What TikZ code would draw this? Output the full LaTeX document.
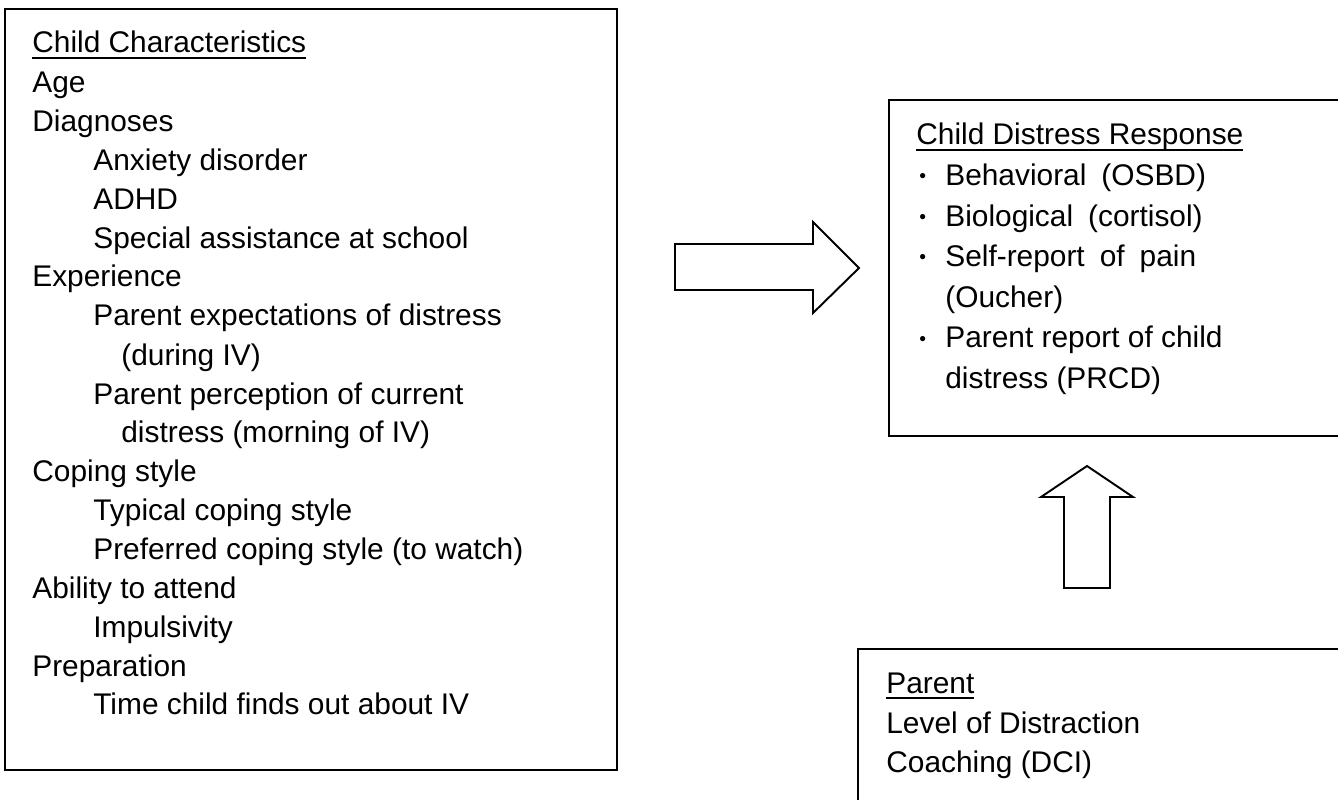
\documentclass[tikz,border=0pt]{standalone}
\usepackage{fontspec}
\setmainfont{Liberation Sans}
\newcommand\ulhead[1]{\setbox0\hbox{#1}\rlap{\rule[-0.12cm]{\wd0}{0.04cm}}\box0}
\newcommand\smbullet{\raisebox{0.06cm}{\fontsize{11}{11}\selectfont •}}
\newcommand\wsp{\hspace{0.3cm}}
\begin{document}
\begin{tikzpicture}[x=0.02cm,y=-0.02cm,
  txt/.style={anchor=base west, inner sep=0pt, font=\fontsize{17}{20}\selectfont},
  boxline/.style={draw, line width=1.3pt, line join=miter},
  blockarrow/.style={draw, line width=1.1pt, line join=miter, fill=white}]
\useasboundingbox (0,0) rectangle (1338,800);
\clip (0,0) rectangle (1338,800);
\fill[white] (0,0) rectangle (1338,800);

% --- left box: child characteristics
\node[boxline, minimum width=12.24cm, minimum height=15.22cm, inner sep=0pt] (child) at (311,389.5) {};
\node[txt] (c1)  at (32,53)  {\ulhead{Child Characteristics}};
\node[txt] (c2)  at (32,93)  {Age};
\node[txt] (c3)  at (32,132) {Diagnoses};
\node[txt] (c4)  at (93,171) {Anxiety disorder};
\node[txt] (c5)  at (93,210) {ADHD};
\node[txt] (c6)  at (93,249) {Special assistance at school};
\node[txt] (c7)  at (32,287) {Experience};
\node[txt] (c8)  at (93,326) {Parent expectations of distress};
\node[txt] (c9)  at (121,365) {(during IV)};
\node[txt] (c10) at (93,404) {Parent perception of current};
\node[txt] (c11) at (121,442) {distress (morning of IV)};
\node[txt] (c12) at (32,481) {Coping style};
\node[txt] (c13) at (93,520) {Typical coping style};
\node[txt] (c14) at (93,559) {Preferred coping style (to watch)};
\node[txt] (c15) at (32,598) {Ability to attend};
\node[txt] (c16) at (93,637) {Impulsivity};
\node[txt] (c17) at (32,676) {Preparation};
\node[txt] (c18) at (93,714) {Time child finds out about IV};

% --- top right box: child distress response
\coordinate (rtl) at (889,100);
\coordinate (rbl) at (889,436);
\draw[boxline] (1345,100) -- (rtl) -- (rbl) -- (1345,436);
\node[txt] (r1) at (916,145) {\ulhead{Child Distress Response}};
\node[txt] (r2) at (919,186) {\rlap{\smbullet}\hspace{0.52cm}Behavioral\wsp(OSBD)};
\node[txt] (r3) at (919,227) {\rlap{\smbullet}\hspace{0.52cm}Biological\wsp(cortisol)};
\node[txt] (r4) at (919,267) {\rlap{\smbullet}\hspace{0.52cm}Self-report\wsp of\wsp pain};
\node[txt] (r5) at (945,308) {(Oucher)};
\node[txt] (r6) at (919,348) {\rlap{\smbullet}\hspace{0.52cm}Parent report of child};
\node[txt] (r7) at (945,388) {distress (PRCD)};

% --- bottom right box: parent
\coordinate (ptl) at (858,649);
\draw[boxline] (1345,649) -- (ptl) -- (858,810);
\node[txt] (p1) at (886,693) {\ulhead{Parent}};
\node[txt] (p2) at (886,733) {Level of Distraction};
\node[txt] (p3) at (886,772) {Coaching (DCI)};

% --- block arrows
\draw[blockarrow] (675,244) -- (813,244) -- (813,222) -- (859,268) -- (813,313) -- (813,290) -- (675,290) -- cycle;
\draw[blockarrow] (1064,588) -- (1064,497) -- (1041,497) -- (1087,466) -- (1133,497) -- (1110,497) -- (1110,588) -- cycle;
\end{tikzpicture}
\end{document}
